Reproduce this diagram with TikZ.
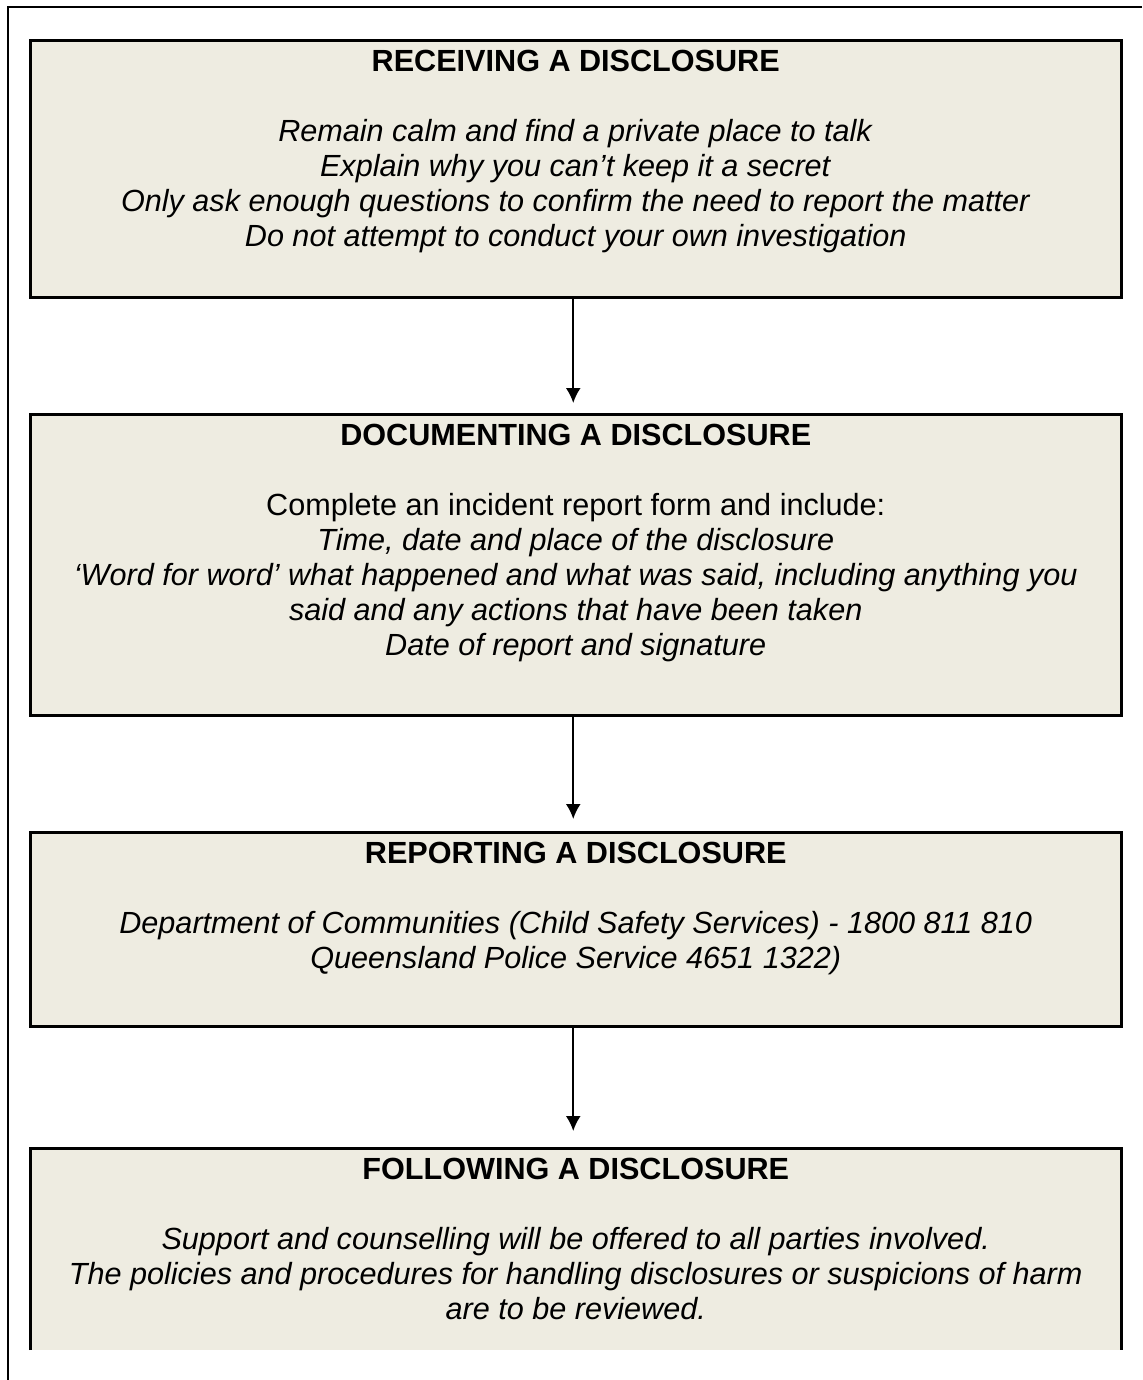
\documentclass[tikz,border=0pt]{standalone}
\usepackage{fontspec}
\setmainfont{Liberation Sans}
\usetikzlibrary{arrows.meta}
\definecolor{boxfill}{HTML}{EEECE1}
\begin{document}
\begin{tikzpicture}[x = .5pt, y = -.5pt]
	\tikzstyle{every node} = [font = \fontsize{15.3}{17.5}\selectfont, inner sep = 0, outer sep = 0]
	\tikzstyle{stage} = [rectangle, fill = boxfill, draw, line width = 1.5pt, minimum width = 545.25pt, anchor = north]
	\tikzstyle{stagetext} = [align = center, anchor = north]
	\useasboundingbox (0,0) rectangle (1142,1380);

	\draw [line width = 1pt] (1142,7) -- (8,7) -- (8,1380); %page border

	\node [stage, minimum height = 128pt] (recv) at (575.75,41) {};
	\node [stage, minimum height = 150.5pt] (docu) at (575.75,414) {};
	\node [stage, minimum height = 97pt] (repo) at (575.75,832) {};
	\node [stage, draw = none, minimum height = 101pt] (follow) at (575.75,1148) {};
	\draw [line width = 1.5pt] (follow.south west) -- (follow.north west) -- (follow.north east) -- (follow.south east); %no bottom edge

	\node [stagetext] (recvtext) at ([yshift = -3.25pt]recv.north) {\strut\textbf{RECEIVING A DISCLOSURE}\\[17.5pt]
		\textit{Remain calm and find a private place to talk}\\
		\textit{Explain why you can’t keep it a secret}\\
		\textit{Only ask enough questions to confirm the need to report the matter}\\
		\textit{Do not attempt to conduct your own investigation}};
	\node [stagetext] (docutext) at ([yshift = -3.25pt]docu.north) {\strut\textbf{DOCUMENTING A DISCLOSURE}\\[17.5pt]
		Complete an incident report form and include:\\
		\textit{Time, date and place of the disclosure}\\
		\textit{‘Word for word’ what happened and what was said, including anything you}\\
		\textit{said and any actions that have been taken}\\
		\textit{Date of report and signature}};
	\node [stagetext] (repotext) at ([yshift = -3.25pt]repo.north) {\strut\textbf{REPORTING A DISCLOSURE}\\[17.5pt]
		\textit{Department of Communities (Child Safety Services) - 1800 811 810}\\
		\textit{Queensland Police Service 4651 1322)}};
	\node [stagetext] (followtext) at ([yshift = -3.25pt]follow.north) {\strut\textbf{FOLLOWING A DISCLOSURE}\\[17.5pt]
		\textit{Support and counselling will be offered to all parties involved.}\\
		\textit{The policies and procedures for handling disclosures or suspicions of harm}\\
		\textit{are to be reviewed.}};

	\foreach \from/\to/\gap in {recv/docu/5.5pt, docu/repo/6.5pt, repo/follow/8.5pt}
	{
		\draw [line width = 1pt, -{Latex[length = 7.5pt, width = 7.5pt]}, shorten > = \gap] ([xshift = -1.25pt]\from.south) -- ([xshift = -1.25pt]\to.north);
	}
\end{tikzpicture}
\end{document}
